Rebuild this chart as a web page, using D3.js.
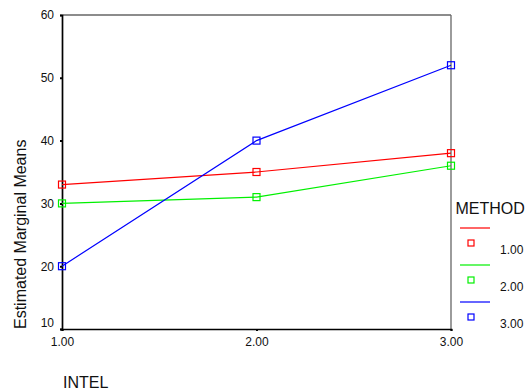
<!DOCTYPE html>
<html><head><meta charset="utf-8">
<script src="https://cdn.jsdelivr.net/npm/d3@7"></script>
<style>body{margin:0;background:#fff;} text{font-family:Arial,"Liberation Sans",sans-serif;}</style>
</head><body><svg id="c" width="529" height="390"></svg>
<script>
const categories = [1, 2, 3];
const categoryLabels = ["1.00", "2.00", "3.00"];
const seriesNames = ["1.00", "2.00", "3.00"];
const seriesColors = ["#ff0000", "#00f000", "#0000ff"];
const method1 = [33, 35, 38];
const method2 = [30, 31, 36];
const method3 = [20, 40, 52];
const yTicks = [10, 20, 30, 40, 50, 60];
const series = [method1, method2, method3];

const svg = d3.select("#c");
const m = {l: 62, r: 451, t: 15, b: 329};
const x = d3.scaleLinear().domain([1, 3]).range([m.l, m.r]);
const y = d3.scaleLinear().domain([10, 60]).range([m.b, m.t]);

// frame top/right
svg.append("line").attr("x1", m.l).attr("x2", m.r).attr("y1", m.t).attr("y2", m.t).attr("stroke", "#666").attr("stroke-width", 1.3);
svg.append("line").attr("x1", m.r).attr("x2", m.r).attr("y1", m.t).attr("y2", m.b).attr("stroke", "#666").attr("stroke-width", 1.3);

// y axis
const ya = svg.append("g").attr("transform", `translate(${m.l},0)`)
  .call(d3.axisLeft(y).tickValues(yTicks).tickFormat(d3.format("d")).tickSize(2).tickPadding(6));
ya.select(".domain").attr("stroke", "#000").attr("stroke-width", 1.7);
ya.selectAll(".tick line").attr("stroke", "#000").attr("stroke-width", 2);
ya.selectAll(".tick text").attr("font-size", 12).attr("fill", "#111")
  .attr("font-family", "Arial, 'Liberation Sans', sans-serif")
  .attr("dy", d => d === 10 ? "-0.25em" : "0.32em");

// x axis
const xa = svg.append("g").attr("transform", `translate(0,${m.b})`)
  .call(d3.axisBottom(x).tickValues(categories).tickFormat((d, i) => categoryLabels[i]).tickSize(2).tickPadding(6));
xa.select(".domain").attr("stroke", "#000").attr("stroke-width", 1.7);
xa.selectAll(".tick line").attr("stroke", "#000").attr("stroke-width", 2);
xa.selectAll(".tick text").attr("font-size", 12).attr("fill", "#111")
  .attr("font-family", "Arial, 'Liberation Sans', sans-serif");

// lines and markers
const line = d3.line().x((d, i) => x(categories[i])).y(d => y(d));
series.forEach((s, k) => {
  svg.append("path").datum(s).attr("d", line).attr("fill", "none")
    .attr("stroke", seriesColors[k]).attr("stroke-width", 1.2);
  svg.selectAll(null).data(s).enter().append("rect")
    .attr("x", (d, i) => x(categories[i]) - 3.5).attr("y", d => y(d) - 3.5)
    .attr("width", 7).attr("height", 7).attr("fill", "none")
    .attr("stroke", seriesColors[k]).attr("stroke-width", 1.2);
});

// axis titles
svg.append("text").attr("x", 63).attr("y", 388).attr("font-size", 16).attr("fill", "#111").text("INTEL");
svg.append("text").attr("transform", "translate(26,329) rotate(-90)").attr("font-size", 16).attr("fill", "#111")
  .text("Estimated Marginal Means");

// legend
svg.append("text").attr("x", 455.5).attr("y", 214).attr("font-size", 16).attr("fill", "#111").text("METHOD");
seriesNames.forEach((n, k) => {
  const y0 = 228 + k * 37;
  svg.append("line").attr("x1", 460).attr("x2", 490).attr("y1", y0).attr("y2", y0)
    .attr("stroke", seriesColors[k]).attr("stroke-width", 1.2);
  svg.append("rect").attr("x", 468).attr("y", y0 + 12).attr("width", 6).attr("height", 6)
    .attr("fill", "none").attr("stroke", seriesColors[k]).attr("stroke-width", 1.2);
  svg.append("text").attr("x", 500).attr("y", y0 + 26).attr("font-size", 12).attr("fill", "#111").text(n);
});
</script></body></html>
